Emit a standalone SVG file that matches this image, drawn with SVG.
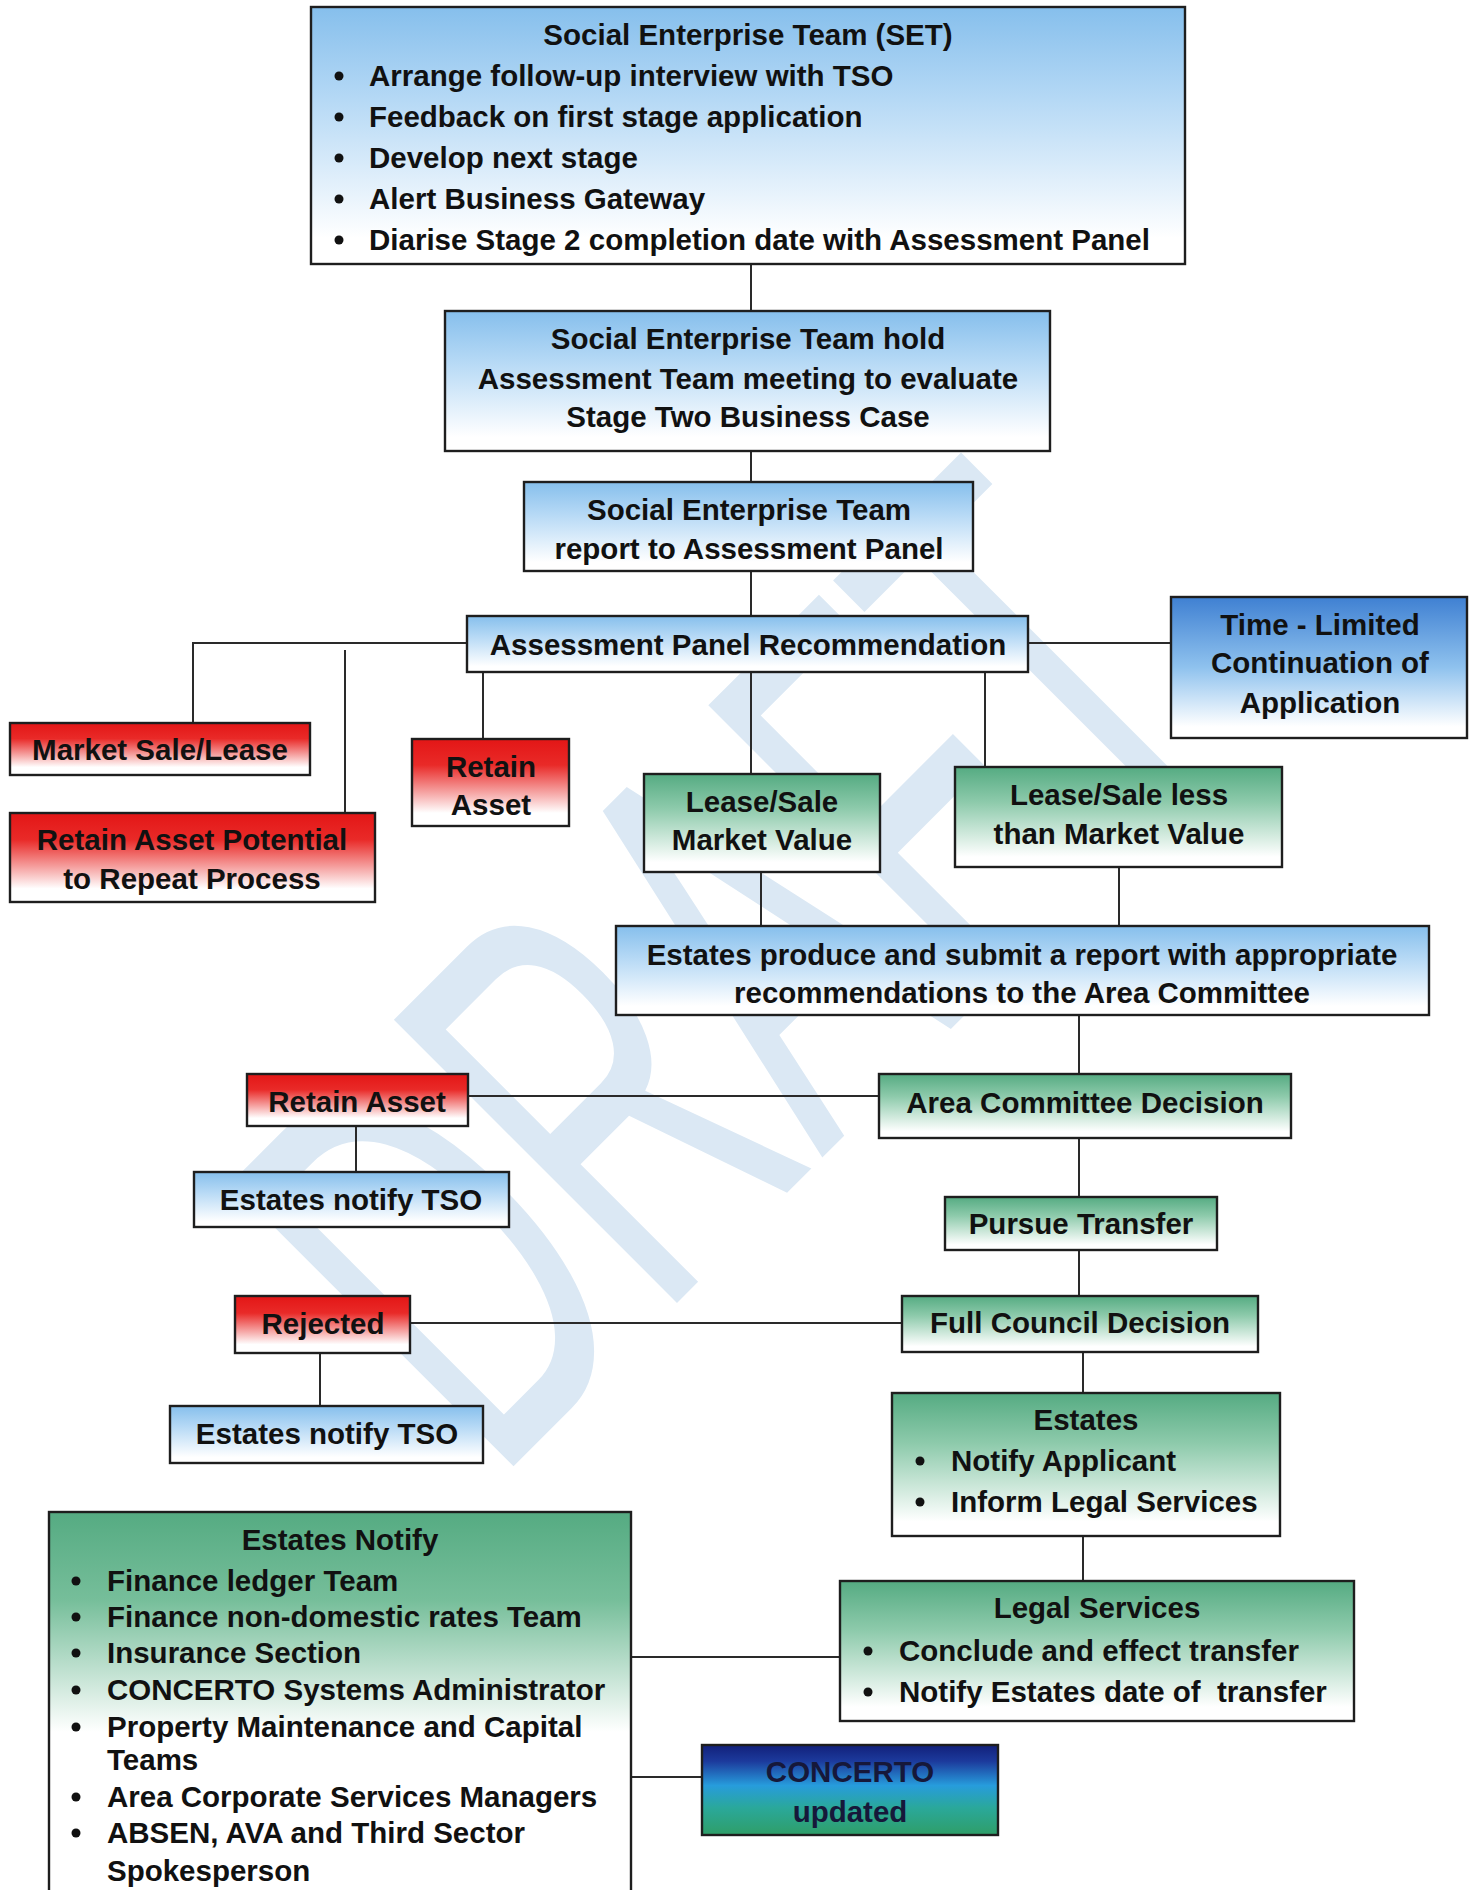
<svg xmlns="http://www.w3.org/2000/svg" width="1477" height="1890" viewBox="0 0 1477 1890">
<defs>
<linearGradient id="gBlue" x1="0" y1="0" x2="0" y2="1">
<stop offset="0" stop-color="#86bfec"/><stop offset="0.35" stop-color="#b4d8f5"/><stop offset="0.9" stop-color="#ffffff"/>
</linearGradient>
<linearGradient id="gBlueDark" x1="0" y1="0" x2="0" y2="1">
<stop offset="0" stop-color="#3f80d2"/><stop offset="0.5" stop-color="#8fc2ee"/><stop offset="0.92" stop-color="#ffffff"/>
</linearGradient>
<linearGradient id="gRed" x1="0" y1="0" x2="0" y2="1">
<stop offset="0" stop-color="#e31616"/><stop offset="0.3" stop-color="#e92a28"/><stop offset="0.85" stop-color="#ffffff"/>
</linearGradient>
<linearGradient id="gGreen" x1="0" y1="0" x2="0" y2="1">
<stop offset="0" stop-color="#55ab82"/><stop offset="0.35" stop-color="#8dcaab"/><stop offset="0.9" stop-color="#ffffff"/>
</linearGradient>
<linearGradient id="gGreenTall" x1="0" y1="0" x2="0" y2="1">
<stop offset="0" stop-color="#55ab82"/><stop offset="0.22" stop-color="#76be9a"/><stop offset="0.55" stop-color="#ffffff"/>
</linearGradient>
<linearGradient id="gConcerto" x1="0" y1="0" x2="0" y2="1">
<stop offset="0" stop-color="#12207a"/><stop offset="0.18" stop-color="#1c3a9c"/><stop offset="0.45" stop-color="#279cdc"/><stop offset="0.7" stop-color="#2aa89a"/><stop offset="1" stop-color="#2f9e68"/>
</linearGradient>
<style>
.box{stroke:#1e1e1e;stroke-width:2.4}
.t{font-family:"Liberation Sans",Arial,sans-serif;font-weight:bold;font-size:29.5px;fill:#111}
.c{text-anchor:middle}
.dot{fill:#111}
.wire{stroke:#2a2a2a;stroke-width:2;fill:none}
.wm{font-family:"Liberation Sans",Arial,sans-serif;font-size:582px;fill:#dbe8f4}
</style>
</defs>
<rect width="1477" height="1890" fill="#ffffff"/>
<g id="watermark">
<text class="wm" transform="rotate(-45) translate(-700,1400) scale(0.55,1)">DRAFT</text>
</g>
<g id="connectors">
<path class="wire" d="M751 264V311M751 451V482M751 571V616"/>
<path class="wire" d="M467 643H193V723"/>
<path class="wire" d="M345 650V813"/>
<path class="wire" d="M483 672V739"/>
<path class="wire" d="M751 672V774"/>
<path class="wire" d="M985 672V767"/>
<path class="wire" d="M1028 643H1171"/>
<path class="wire" d="M761 872V926M1119 867V926"/>
<path class="wire" d="M1079 1015V1074"/>
<path class="wire" d="M468 1096H879"/>
<path class="wire" d="M356 1126V1172"/>
<path class="wire" d="M1079 1138V1197M1079 1250V1296"/>
<path class="wire" d="M410 1323H902"/>
<path class="wire" d="M320 1353V1406"/>
<path class="wire" d="M1083 1352V1393M1083 1536V1581"/>
<path class="wire" d="M631 1657H840"/>
<path class="wire" d="M631 1777H702"/>
</g>
<g id="set">
<rect class="box" x="311" y="7" width="874" height="257" fill="url(#gBlue)"/>
<text class="t c" x="748" y="45">Social Enterprise Team (SET)</text>
<circle class="dot" cx="339" cy="76" r="4.5"/><text class="t" x="369" y="86">Arrange follow-up interview with TSO</text>
<circle class="dot" cx="339" cy="117" r="4.5"/><text class="t" x="369" y="127">Feedback on first stage application</text>
<circle class="dot" cx="339" cy="158" r="4.5"/><text class="t" x="369" y="168">Develop next stage</text>
<circle class="dot" cx="339" cy="199" r="4.5"/><text class="t" x="369" y="209">Alert Business Gateway</text>
<circle class="dot" cx="339" cy="240" r="4.5"/><text class="t" x="369" y="250">Diarise Stage 2 completion date with Assessment Panel</text>
</g>
<g id="set-hold">
<rect class="box" x="445" y="311" width="605" height="140" fill="url(#gBlue)"/>
<text class="t c" x="748" y="349">Social Enterprise Team hold</text>
<text class="t c" x="748" y="389">Assessment Team meeting to evaluate</text>
<text class="t c" x="748" y="427">Stage Two Business Case</text>
</g>
<g id="set-report">
<rect class="box" x="524" y="482" width="449" height="89" fill="url(#gBlue)"/>
<text class="t c" x="749" y="520">Social Enterprise Team</text>
<text class="t c" x="749" y="559">report to Assessment Panel</text>
</g>
<g id="panel-recommendation">
<rect class="box" x="467" y="616" width="561" height="56" fill="url(#gBlue)"/>
<text class="t c" x="748" y="655">Assessment Panel Recommendation</text>
</g>
<g id="time-limited">
<rect class="box" x="1171" y="597" width="296" height="141" fill="url(#gBlueDark)"/>
<text class="t c" x="1320" y="635">Time - Limited</text>
<text class="t c" x="1320" y="673">Continuation of</text>
<text class="t c" x="1320" y="713">Application</text>
</g>
<g id="market-sale">
<rect class="box" x="10" y="723" width="300" height="52" fill="url(#gRed)"/>
<text class="t c" x="160" y="760">Market Sale/Lease</text>
</g>
<g id="retain-potential">
<rect class="box" x="10" y="813" width="365" height="89" fill="url(#gRed)"/>
<text class="t c" x="192" y="850">Retain Asset Potential</text>
<text class="t c" x="192" y="889">to Repeat Process</text>
</g>
<g id="retain-asset-1">
<rect class="box" x="412" y="739" width="157" height="87" fill="url(#gRed)"/>
<text class="t c" x="491" y="777">Retain</text>
<text class="t c" x="491" y="815">Asset</text>
</g>
<g id="lease-market">
<rect class="box" x="644" y="774" width="236" height="98" fill="url(#gGreen)"/>
<text class="t c" x="762" y="812">Lease/Sale</text>
<text class="t c" x="762" y="850">Market Value</text>
</g>
<g id="lease-less">
<rect class="box" x="955" y="767" width="327" height="100" fill="url(#gGreen)"/>
<text class="t c" x="1119" y="805">Lease/Sale less</text>
<text class="t c" x="1119" y="844">than Market Value</text>
</g>
<g id="estates-report">
<rect class="box" x="616" y="926" width="813" height="89" fill="url(#gBlue)"/>
<text class="t c" x="1022" y="965">Estates produce and submit a report with appropriate</text>
<text class="t c" x="1022" y="1003">recommendations to the Area Committee</text>
</g>
<g id="retain-asset-2">
<rect class="box" x="247" y="1074" width="221" height="52" fill="url(#gRed)"/>
<text class="t c" x="357" y="1112">Retain Asset</text>
</g>
<g id="area-committee">
<rect class="box" x="879" y="1074" width="412" height="64" fill="url(#gGreen)"/>
<text class="t c" x="1085" y="1113">Area Committee Decision</text>
</g>
<g id="notify-tso-1">
<rect class="box" x="194" y="1172" width="315" height="55" fill="url(#gBlue)"/>
<text class="t c" x="351" y="1210">Estates notify TSO</text>
</g>
<g id="pursue-transfer">
<rect class="box" x="945" y="1197" width="272" height="53" fill="url(#gGreen)"/>
<text class="t c" x="1081" y="1234">Pursue Transfer</text>
</g>
<g id="rejected">
<rect class="box" x="235" y="1296" width="175" height="57" fill="url(#gRed)"/>
<text class="t c" x="323" y="1334">Rejected</text>
</g>
<g id="full-council">
<rect class="box" x="902" y="1296" width="356" height="56" fill="url(#gGreen)"/>
<text class="t c" x="1080" y="1333">Full Council Decision</text>
</g>
<g id="notify-tso-2">
<rect class="box" x="170" y="1406" width="313" height="57" fill="url(#gBlue)"/>
<text class="t c" x="327" y="1444">Estates notify TSO</text>
</g>
<g id="estates">
<rect class="box" x="892" y="1393" width="388" height="143" fill="url(#gGreen)"/>
<text class="t c" x="1086" y="1430">Estates</text>
<circle class="dot" cx="920" cy="1461" r="4.5"/><text class="t" x="951" y="1471">Notify Applicant</text>
<circle class="dot" cx="920" cy="1502" r="4.5"/><text class="t" x="951" y="1512">Inform Legal Services</text>
</g>
<g id="legal-services">
<rect class="box" x="840" y="1581" width="514" height="140" fill="url(#gGreen)"/>
<text class="t c" x="1097" y="1618">Legal Services</text>
<circle class="dot" cx="868" cy="1651" r="4.5"/><text class="t" x="899" y="1661">Conclude and effect transfer</text>
<circle class="dot" cx="868" cy="1692" r="4.5"/><text class="t" x="899" y="1702" xml:space="preserve">Notify Estates date of  transfer</text>
</g>
<g id="estates-notify">
<rect class="box" x="49" y="1512" width="582" height="400" fill="url(#gGreenTall)"/>
<text class="t c" x="340" y="1550">Estates Notify</text>
<circle class="dot" cx="76" cy="1581" r="4.5"/><text class="t" x="107" y="1591">Finance ledger Team</text>
<circle class="dot" cx="76" cy="1617" r="4.5"/><text class="t" x="107" y="1627">Finance non-domestic rates Team</text>
<circle class="dot" cx="76" cy="1653" r="4.5"/><text class="t" x="107" y="1663">Insurance Section</text>
<circle class="dot" cx="76" cy="1690" r="4.5"/><text class="t" x="107" y="1700">CONCERTO Systems Administrator</text>
<circle class="dot" cx="76" cy="1727" r="4.5"/><text class="t" x="107" y="1737">Property Maintenance and Capital</text>
<text class="t" x="107" y="1770">Teams</text>
<circle class="dot" cx="76" cy="1797" r="4.5"/><text class="t" x="107" y="1807">Area Corporate Services Managers</text>
<circle class="dot" cx="76" cy="1833" r="4.5"/><text class="t" x="107" y="1843">ABSEN, AVA and Third Sector</text>
<text class="t" x="107" y="1881">Spokesperson</text>
</g>
<g id="concerto">
<rect class="box" x="702" y="1745" width="296" height="90" fill="url(#gConcerto)"/>
<text class="t c" x="850" y="1782" style="fill:#16183a">CONCERTO</text>
<text class="t c" x="850" y="1822" style="fill:#16183a">updated</text>
</g>
</svg>
